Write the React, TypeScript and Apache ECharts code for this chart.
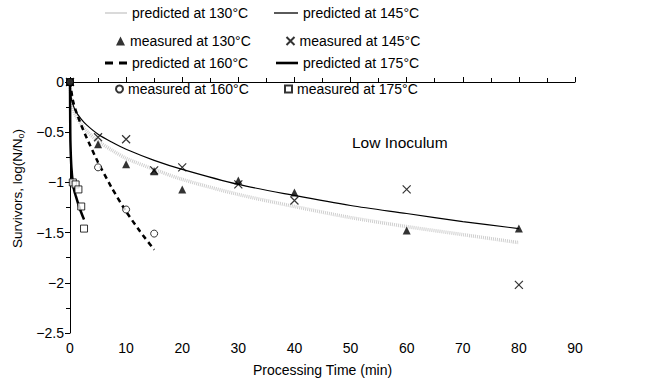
import React, { useEffect, useRef } from "react";
import * as echarts from "echarts";

const FONT = "'Liberation Sans', Arial, sans-serif";

// predicted curves [time, log(N/No)]
const pred130: number[][] = [[0, 0], [0.25, -0.2], [0.5, -0.26], [1, -0.33], [2, -0.42], [3, -0.49], [5, -0.59], [7.5, -0.68], [10, -0.76], [15, -0.87], [20, -0.97], [30, -1.12], [40, -1.24], [50, -1.35], [60, -1.44], [70, -1.52], [80, -1.6]];
const pred145: number[][] = [[0, 0], [0.25, -0.17], [0.5, -0.22], [1, -0.29], [2, -0.37], [3, -0.43], [5, -0.52], [7.5, -0.6], [10, -0.67], [15, -0.78], [20, -0.87], [30, -1.02], [40, -1.13], [50, -1.23], [60, -1.31], [70, -1.39], [80, -1.46]];
const pred160: number[][] = [[0, 0], [0.5, -0.18], [1, -0.28], [2, -0.43], [3, -0.56], [5, -0.8], [7.5, -1.06], [10, -1.29], [12.5, -1.49], [15, -1.67]];
const pred175: number[][] = [[0, 0], [0.05, -0.5], [0.1, -0.65], [0.25, -0.85], [0.5, -1.0], [0.75, -1.08], [1, -1.13], [1.5, -1.22], [2, -1.3], [2.5, -1.37]];

// measured points
const meas130: number[][] = [[0, 0], [5, -0.62], [10, -0.82], [15, -0.89], [20, -1.07], [30, -0.98], [40, -1.1], [60, -1.48], [80, -1.46]];
const meas145: number[][] = [[0, 0], [5, -0.55], [10, -0.57], [15, -0.88], [20, -0.85], [30, -1.02], [40, -1.18], [60, -1.07], [80, -2.02]];
const meas160: number[][] = [[0, 0], [5, -0.85], [10, -1.27], [15, -1.51]];
const meas175: number[][] = [[0, 0], [0.5, -1.0], [1, -1.02], [1.5, -1.07], [2, -1.24], [2.5, -1.46]];

const xTicks = { min: 0, max: 90, interval: 10 };
const yTicks = { min: -2.5, max: 0, interval: 0.5 };

const CROSS = "path://M0,0L10,10M10,0L0,10";
const DASH_ICON = "path://M0,0h8v3h-8zM14,0h8v3h-8z";

export default function App() {
  const ref = useRef<HTMLDivElement>(null);
  useEffect(() => {
    const chart = echarts.init(ref.current!, undefined, { renderer: "svg" });
    const txt = { color: "#000", fontSize: 14, fontFamily: FONT };
    const leg = (name: string, left: number, cy: number, w: number, h: number, icon?: string, color?: string) => ({
      show: true,
      data: [icon ? (color ? { name, icon, itemStyle: { color } } : { name, icon }) : name],
      left,
      top: cy - 8,
      itemWidth: w,
      itemHeight: h,
      itemGap: 0,
      padding: 0,
      selectedMode: false,
      textStyle: { ...txt, padding: [0, 0, 0, 0] },
    });
    chart.setOption({
      animation: false,
      backgroundColor: "#fff",
      textStyle: { fontFamily: FONT },
      grid: { left: 70, right: 85, top: 82, bottom: 58, containLabel: false },
      legend: [
        leg("predicted at 130°C", 105, 14, 22, 2, "rect", "#dadada"),
        leg("predicted at 145°C", 274, 14, 24, 1.3, "rect"),
        leg("measured at 130°C", 116, 42, 9, 9),
        leg("measured at 145°C", 284, 42, 8, 8),
        leg("predicted at 160°C", 105, 64, 22, 3, DASH_ICON),
        leg("predicted at 175°C", 276, 64, 22, 2.6, "rect"),
        leg("measured at 160°C", 115, 90, 7, 7),
        leg("measured at 175°C", 284, 90, 7, 7),
      ],
      graphic: [
        {
          type: "text",
          left: 352,
          top: 134,
          style: { text: "Low Inoculum", fill: "#000", fontSize: 15.5, fontFamily: FONT },
        },
      ],
      xAxis: {
        type: "value",
        ...xTicks,
        name: "Processing Time (min)",
        nameLocation: "middle",
        nameGap: 30,
        nameTextStyle: txt,
        axisLine: { lineStyle: { color: "#000", width: 1 } },
        axisTick: { inside: true, length: 5, lineStyle: { color: "#000" } },
        minorTick: { show: true, splitNumber: 2, length: 4, lineStyle: { color: "#000" } },
        splitLine: { show: false },
        axisLabel: { ...txt, margin: 8 },
      },
      yAxis: {
        type: "value",
        ...yTicks,
        name: "{a|Survivors, log(N/N}{s|o}{a|)}",
        nameLocation: "middle",
        nameGap: 45,
        nameTextStyle: {
          ...txt,
          padding: [0, 0, 0, 38],
          rich: {
            a: { fontSize: 13.5, fontFamily: FONT, color: "#000" },
            s: { fontSize: 9, fontFamily: FONT, color: "#000", padding: [7, 0, 0, 0] },
          },
        },
        axisLine: { onZero: false, lineStyle: { color: "#000", width: 1 } },
        axisTick: { inside: false, length: 5, lineStyle: { color: "#000" } },
        minorTick: { show: true, splitNumber: 2, length: 4, lineStyle: { color: "#000" } },
        splitLine: { show: false },
        axisLabel: {
          ...txt,
          margin: 6,
          formatter: (v: number) => String(v).replace("-", "\u2212"),
        },
      },
      series: [
        {
          name: "predicted at 130°C",
          type: "line",
          data: pred130,
          symbol: "none",
          smooth: 0.3,
          lineStyle: { color: "#cfcfcf", width: 3.5, type: [1, 1] },
          itemStyle: { color: "#cfcfcf" },
          z: 1,
        },
        {
          name: "predicted at 145°C",
          type: "line",
          data: pred145,
          symbol: "none",
          smooth: 0.3,
          lineStyle: { color: "#000", width: 1.2 },
          itemStyle: { color: "#000" },
          z: 2,
        },
        {
          name: "predicted at 160°C",
          type: "line",
          data: pred160,
          symbol: "none",
          smooth: 0.2,
          lineStyle: { color: "#000", width: 2.5, type: [5, 4] },
          itemStyle: { color: "#000" },
          z: 2,
        },
        {
          name: "predicted at 175°C",
          type: "line",
          data: pred175,
          symbol: "none",
          smooth: 0.3,
          lineStyle: { color: "#000", width: 2.5 },
          itemStyle: { color: "#000" },
          z: 2,
        },
        {
          name: "measured at 130°C",
          type: "scatter",
          data: meas130,
          symbol: "triangle",
          symbolSize: 8,
          itemStyle: { color: "#000" },
          z: 3,
        },
        {
          name: "measured at 145°C",
          type: "scatter",
          data: meas145,
          symbol: CROSS,
          symbolSize: 8,
          itemStyle: { color: "none", borderColor: "#000", borderWidth: 1.2 },
          z: 3,
        },
        {
          name: "measured at 160°C",
          type: "scatter",
          data: meas160,
          symbol: "circle",
          symbolSize: 7,
          itemStyle: { color: "#fff", borderColor: "#000", borderWidth: 1 },
          z: 3,
        },
        {
          name: "measured at 175°C",
          type: "scatter",
          data: meas175.map((p, i) => (i === 0 ? { value: p, itemStyle: { color: "#000" } } : p)),
          symbol: "rect",
          symbolSize: 7,
          itemStyle: { color: "#fff", borderColor: "#000", borderWidth: 1 },
          z: 4,
        },
      ],
    });
    return () => chart.dispose();
  }, []);
  return <div ref={ref} style={{ width: 660, height: 391, position: "absolute", left: 0, top: 0 }} />;
}
